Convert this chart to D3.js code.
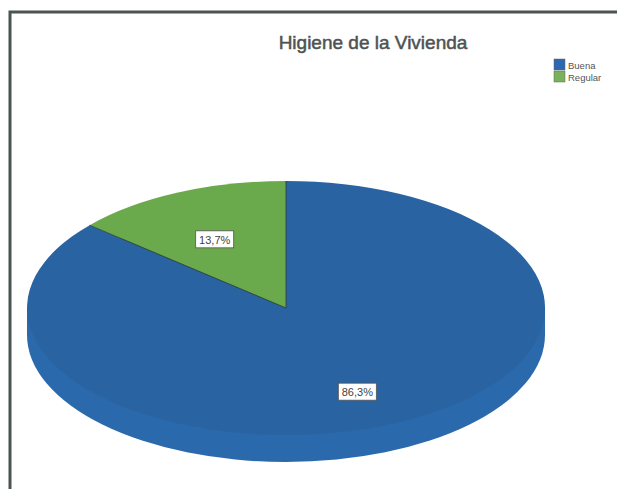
<!DOCTYPE html>
<html>
<head>
<meta charset="utf-8">
<script src="https://cdn.jsdelivr.net/npm/d3@7"></script>
<style>
  body { margin: 0; background: #fff; }
  text { font-family: "Liberation Sans", Arial, sans-serif; }
</style>
</head>
<body>
<div id="chart"></div>
<script>
var svgWidth = 617;
var svgHeight = 489;

// data
var categories = ["Buena", "Regular"];
var percents = [86.3, 13.7];
var labels = ["86,3%", "13,7%"];
var colors = ["#2a63a1", "#6aa94c"];
var sideColor = "#2b69ad";

var cx = 286, cy = 308, rx = 259, ry = 127, depth = 27;

var svg = d3.select("#chart")
  .append("svg")
  .attr("width", svgWidth)
  .attr("height", svgHeight);

svg.append("rect")
  .attr("width", svgWidth)
  .attr("height", svgHeight)
  .attr("fill", "#fff");

// frame
svg.append("path")
  .attr("d", "M10,489 L10,12 L617,12")
  .attr("fill", "none")
  .attr("stroke", "#4b5550")
  .attr("stroke-width", 3);

// title
svg.append("text")
  .attr("x", 373)
  .attr("y", 49)
  .attr("text-anchor", "middle")
  .attr("font-size", "19px")
  .attr("fill", "#4d5252")
  .attr("stroke", "#4d5252")
  .attr("stroke-width", 0.5)
  .text("Higiene de la Vivienda");

// legend
var legend = svg.selectAll(".legend")
  .data(categories)
  .enter()
  .append("g")
  .attr("transform", (d, i) => `translate(554, ${59 + i * 12})`);

legend.append("rect")
  .attr("width", 11)
  .attr("height", 11)
  .attr("fill", (d, i) => i == 0 ? "#2c68b0" : "#78b25a")
  .attr("stroke", "#666")
  .attr("stroke-width", 0.5);

legend.append("text")
  .attr("x", 14)
  .attr("y", 9.5)
  .attr("font-size", "9.5px")
  .attr("fill", "#555")
  .text(d => d);

// pie side (3D thickness)
var pieGroup = svg.append("g")
  .attr("transform", `translate(${cx}, ${cy})`);

pieGroup.append("ellipse")
  .attr("cx", 0)
  .attr("cy", depth)
  .attr("rx", rx)
  .attr("ry", ry)
  .attr("fill", sideColor);

pieGroup.append("rect")
  .attr("x", -rx)
  .attr("y", 0)
  .attr("width", 2 * rx)
  .attr("height", depth)
  .attr("fill", sideColor);

// pie top face
var pie = d3.pie().sort(null).value(d => d);
var arcs = pie(percents);

var arc = d3.arc().innerRadius(0).outerRadius(1);
var labelArc = d3.arc().innerRadius(0.66).outerRadius(0.66);

var topFace = pieGroup.append("g")
  .attr("transform", `scale(${rx}, ${ry})`);

topFace.selectAll("path")
  .data(arcs)
  .enter()
  .append("path")
  .attr("d", arc)
  .attr("fill", (d, i) => colors[i]);

// slice edges (radial lines only)
pieGroup.selectAll(".edge")
  .data(arcs)
  .enter()
  .append("line")
  .attr("x1", 0)
  .attr("y1", 0)
  .attr("x2", d => Math.sin(d.startAngle) * rx)
  .attr("y2", d => -Math.cos(d.startAngle) * ry)
  .attr("stroke", "#2f3a30")
  .attr("stroke-width", 0.8);

// labels
var lab = pieGroup.selectAll(".lab")
  .data(arcs)
  .enter()
  .append("g")
  .attr("transform", d => {
    var c = labelArc.centroid(d);
    return `translate(${c[0] * rx}, ${c[1] * ry + 8})`;
  });

lab.append("rect")
  .attr("x", -19)
  .attr("y", -9)
  .attr("width", 38)
  .attr("height", 17)
  .attr("fill", "#fff")
  .attr("stroke", "#555")
  .attr("stroke-width", 0.8);

lab.append("text")
  .attr("text-anchor", "middle")
  .attr("y", 4)
  .attr("font-size", "11px")
  .attr("fill", "#444")
  .text((d, i) => labels[i]);
</script>
</body>
</html>
